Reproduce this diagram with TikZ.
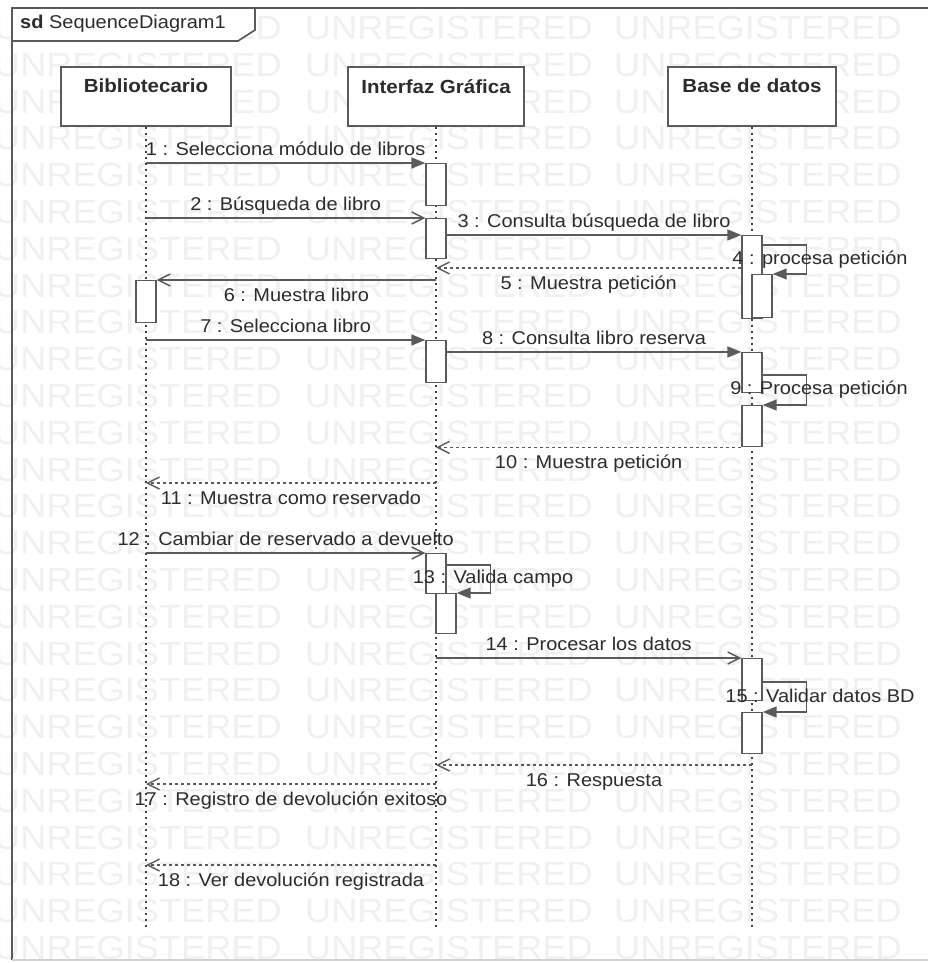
\documentclass[tikz,border=0pt]{standalone}
\usepackage{fontspec}
\newfontfamily\umlfont{Liberation Sans}[FakeStretch=1.08]
\usetikzlibrary{arrows.meta}

\definecolor{inkline}{HTML}{5A5A5A}
\definecolor{inktext}{HTML}{2C2C2C}
\definecolor{wmark}{HTML}{F0F0F0}

\tikzset{
  frameline/.style={draw=inkline, line width=1.7pt},
  head/.style={draw=inkline, line width=1.6pt, fill=white, minimum height=59pt, inner sep=0pt},
  headtxt/.style={font=\umlfont\bfseries\fontsize{19}{22}\selectfont, text=inktext, inner sep=0pt},
  lifeline/.style={draw=black!75, line width=1.6pt, dash pattern=on 2.2pt off 3.8pt},
  actbox/.style={draw=inkline, line width=1.4pt, fill=white, minimum width=20pt, inner sep=0pt, anchor=north},
  call/.style={draw=inkline, line width=1.5pt, -{Triangle[length=14pt,width=11pt]}},
  send/.style={draw=inkline, line width=1.5pt, -{Straight Barb[length=12pt,width=12pt,line width=1.4pt]}},
  reply/.style={send, dash pattern=on 3pt off 3pt},
  lbl/.style={font=\umlfont\fontsize{18.5}{22}\selectfont, text=inktext, inner sep=0pt, anchor=base},
  above lbl/.style={lbl, midway, yshift=8pt},
  below lbl/.style={lbl, midway, yshift=-21.5pt},
  watermark/.style={font=\umlfont\fontsize{33.5}{36}\selectfont, text=wmark, inner sep=0pt, anchor=west}
}

\begin{document}
\begin{tikzpicture}[x=1pt, y=-1pt]
\useasboundingbox (0,0) rectangle (928,963);
\clip (0,0) rectangle (928,963);
\fill[white] (0,0) rectangle (928,963);

% tool watermark rows
\foreach \k in {0,...,25}{
  \foreach \x in {-6,305,614}{
    \node[watermark] (wm-\k-\x) at (\x, 28+36.8*\k) {UNREGISTERED};
  }
}

% interaction frame and its tab
\draw[frameline] (940,8) -- (12,8) -- (12,960);
\draw[draw=black!18, line width=1.2pt] (12,960) -- (940,960);
\draw[frameline, fill=white] (12,8) -- (12,41) -- (238,41) -- (255,30) -- (255,8) -- cycle;
\node[lbl, anchor=west] (title) at (20,24) {\bfseries sd\mdseries\ SequenceDiagram1};

% lifeline heads
\node[head, minimum width=170pt] (bib) at (146,96.5) {};
\node[head, minimum width=176pt] (int) at (436,96.5) {};
\node[head, minimum width=168pt] (bd)  at (752,96.5) {};
\node[headtxt] (bibname) at ([yshift=-20pt]bib.north) {Bibliotecario};
\node[headtxt] (intname) at ([yshift=-20pt]int.north) {Interfaz Gráfica};
\node[headtxt] (bdname)  at ([yshift=-20pt]bd.north)  {Base de datos};

% lifeline ends
\coordinate (bibend) at (146,928);
\coordinate (intend) at (436,928);
\coordinate (bdend)  at (752,928);
\draw[lifeline] (bib.south) -- (bibend);
\draw[lifeline] (int.south) -- (intend);
\draw[lifeline] (bd.south)  -- (bdend);

% activation bars
\node[actbox, minimum height=42pt] (i1)  at (436,163) {};
\node[actbox, minimum height=40pt] (i2)  at (436,218) {};
\node[actbox, minimum height=83pt] (b1)  at (752,235) {};
\node[actbox, minimum height=43pt] (b1n) at (762,274) {};
\node[actbox, minimum height=42pt] (bA)  at (146,280) {};
\node[actbox, minimum height=42pt] (i3)  at (436,340) {};
\node[actbox, minimum height=40pt] (b2)  at (752,352) {};
\node[actbox, minimum height=41pt] (b2n) at (752,405) {};
\node[actbox, minimum height=40pt] (i4)  at (436,553) {};
\node[actbox, minimum height=40pt] (i4n) at (446,593) {};
\node[actbox, minimum height=42pt] (b3)  at (752,658) {};
\node[actbox, minimum height=41pt] (b3n) at (752,712) {};

% message levels without an activation bar
\coordinate (y5)  at (0,268);
\coordinate (y11) at (0,483);
\coordinate (y16) at (0,765);
\coordinate (y17) at (0,784);
\coordinate (y18) at (0,865);

% messages
\draw[call] (bib |- i1.north) -- (i1.north west)
  node[above lbl] (l1) {1 : Selecciona módulo de libros};
\draw[send] (bib |- i2.north) -- (i2.north west)
  node[above lbl] (l2) {2 : Búsqueda de libro};
\draw[call] (i2.east |- b1.north) -- (b1.north west)
  node[above lbl] (l3) {3 : Consulta búsqueda de libro};
\draw[call] ([yshift=-10pt]b1.north east) -- ++(44,0) |- (b1n.north east);
\draw[reply] (b1.west |- y5) -- (int |- y5)
  node[below lbl] (l5) {5 : Muestra petición};
\draw[send] (int |- bA.north) -- (bA.north east)
  node[below lbl] (l6) {6 : Muestra libro};
\draw[call] (bib |- i3.north) -- (i3.north west)
  node[above lbl] (l7) {7 : Selecciona libro};
\draw[call] (i3.east |- b2.north) -- (b2.north west)
  node[above lbl] (l8) {8 : Consulta libro reserva};
\draw[call] ([yshift=-23pt]b2.north east) -- ++(44,0) |- (b2n.north east);
\draw[reply] (b2n.south west) -- (int |- b2n.south)
  node[below lbl] (l10) {10 : Muestra petición};
\draw[reply] (int |- y11) -- (bib |- y11)
  node[below lbl] (l11) {11 : Muestra como reservado};
\draw[send] (bib |- i4.north) -- (i4.north west)
  node[above lbl] (l12) {12 : Cambiar de reservado a devuelto};
\draw[call] ([yshift=-12pt]i4.north east) -- ++(44,0) |- (i4n.north east);
\draw[send] (int |- b3.north) -- (b3.north west)
  node[above lbl] (l14) {14 : Procesar los datos};
\draw[call] ([yshift=-24pt]b3.north east) -- ++(44,0) |- (b3n.north east);
\draw[reply] (bd |- y16) -- (int |- y16)
  node[below lbl] (l16) {16 : Respuesta};
\draw[reply] (int |- y17) -- (bib |- y17)
  node[below lbl] (l17) {17 : Registro de devolución exitoso};
\draw[reply] (int |- y18) -- (bib |- y18)
  node[below lbl] (l18) {18 : Ver devolución registrada};

% self-message labels
\node[lbl] (l4)  at (820,264.5) {4 : procesa petición};
\node[lbl] (l9)  at (819,394.5) {9 : Procesa petición};
\node[lbl] (l13) at (493,583.5) {13 : Valida campo};
\node[lbl] (l15) at (820,702.5) {15 : Validar datos BD};
\end{tikzpicture}
\end{document}
